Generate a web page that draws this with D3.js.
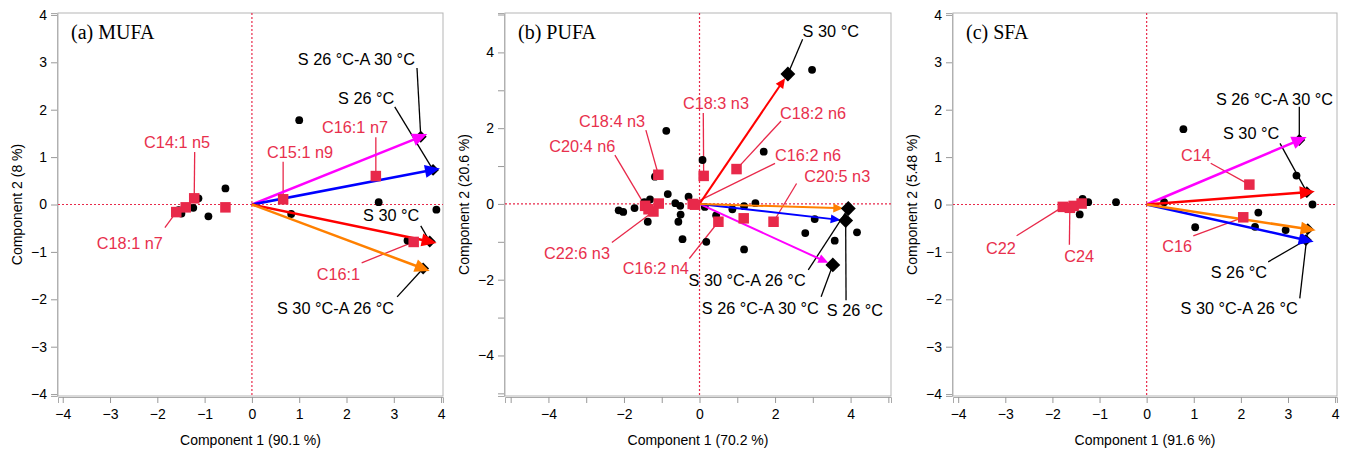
<!DOCTYPE html>
<html lang="en">
<head>
<meta charset="utf-8">
<title>PCA biplots</title>
<script src="https://d3js.org/d3.v7.min.js"></script>
<style>
  body { margin: 0; background: #fff; }
  svg { font-family: "Liberation Sans", Arial, sans-serif; }
  .tick text { font-size: 14px; fill: #000; }
  .tick line { stroke: #999; }
</style>
</head>
<body>
<script>
// treatments = arrows / black diamonds, same order in every panel
var treatments = ["S 26 °C-A 30 °C", "S 26 °C", "S 30 °C", "S 30 °C-A 26 °C"];

// (a) MUFA
var mufaLoadX = [3.57, 3.83, 3.76, 3.62];
var mufaLoadY = [1.43, 0.73, -0.78, -1.35];
var mufaScoreX = [1.0, -0.56, -0.92, -1.24, -1.49, -1.13, -1.55, 0.83, 2.68, 3.9, 3.29];
var mufaScoreY = [1.78, 0.34, -0.25, -0.07, -0.19, 0.13, -0.12, -0.2, 0.05, -0.11, -0.76];
var mufaFA = ["C14:1 n5", "C15:1 n9", "C16:1 n7", "", "", "C18:1 n7", "C16:1"];
var mufaFAX = [-1.22, 0.66, 2.62, -0.56, -1.4, -1.6, 3.42];
var mufaFAY = [0.13, 0.11, 0.6, -0.06, -0.06, -0.16, -0.79];

// (b) PUFA
var pufaLoadX = [3.53, 3.87, 2.34, 3.94];
var pufaLoadY = [-1.61, -0.44, 3.43, -0.12];
var pufaScoreX = [2.98, -0.88, 1.7, 0.08, -1.18, -0.84, -0.29, 1.48, -0.64, -0.51, -1.31, -1.46, -1.72, -2.14, -2.02,
                  0.14, 0.87, 1.18, 3.05, -0.5, -1.37, -0.56, 0.44, 2.8, 4.17, 3.58, 1.18, 0.18, -0.45];
var pufaScoreY = [3.54, 1.93, 1.38, 1.16, 0.72, 0.26, 0.19, 0.02, 0.02, -0.05, 0.12, 0.05, -0.11, -0.17, -0.21,
                  -0.08, -0.14, -0.06, -0.4, -0.28, -0.47, -0.47, -0.3, -0.77, -0.75, -0.97, -1.2, -1.0, -0.93];
var pufaFA = ["C18:4 n3", "C18:3 n3", "C18:2 n6", "C16:2 n6", "C20:5 n3", "", "C16:2 n4", "C20:4 n6", "", "C22:6 n3", "", ""];
var pufaFAX = [-1.09, 0.11, 0.98, -0.18, 1.96, 1.17, 0.5, -1.44, -1.08, -1.22, -1.35, -0.12];
var pufaFAY = [0.77, 0.74, 0.92, 0.0, -0.47, -0.38, -0.47, -0.05, 0.01, -0.2, -0.14, -0.02];

// (c) SFA
var sfaLoadX = [3.24, 3.38, 3.4, 3.42];
var sfaLoadY = [1.36, -0.75, 0.26, -0.52];
var sfaScoreX = [0.78, 3.18, 3.52, 0.37, -0.65, -1.36, -1.24, -1.42, 2.37, 1.03, 2.3, 2.95];
var sfaScoreY = [1.59, 0.61, 0.0, 0.05, 0.05, 0.12, 0.05, -0.21, -0.17, -0.48, -0.47, -0.54];
var sfaFA = ["C14", "C16", "C22", "C24", "", ""];
var sfaFAX = [2.18, 2.05, -1.78, -1.63, -1.55, -1.38];
var sfaFAY = [0.42, -0.27, -0.05, -0.07, -0.03, 0.02];

// explained variance for axis titles
var pc1Pct = ["90.1", "70.2", "91.6"];
var pc2Pct = ["8", "20.6", "5.48"];
var panelTitles = ["(a) MUFA", "(b) PUFA", "(c) SFA"];

var arrowColors = ["#ff00ff", "#0000ff", "#ff0000", "#ff8000"];
var faColor = "#e8294a";

// label placement: [text, text x, text baseline y, leader start x, leader start y] (data units)
var mufaNotes = [
  ["S 26 °C-A 30 °C", 0.97, 2.94, 3.49, 2.88],
  ["S 26 °C", 1.82, 2.12, 3.02, 2.06],
  ["S 30 °C", 2.35, -0.35, 3.57, -0.45],
  ["S 30 °C-A 26 °C", 0.53, -2.31, 3.07, -1.95],
  ["C14:1 n5", -2.28, 1.19, -1.21, 1.11],
  ["C15:1 n9", 0.32, 0.98, 0.66, 0.9],
  ["C16:1 n7", 1.48, 1.51, 2.62, 1.42],
  ["C18:1 n7", -3.28, -0.94, -1.84, -0.49],
  ["C16:1", 1.37, -1.59, 2.32, -1.23]
];
var pufaNotes = [
  ["S 30 °C", 2.73, 4.41, 2.73, 4.35],
  ["S 30 °C-A 26 °C", -0.29, -2.17, 2.88, -1.74],
  ["S 26 °C-A 30 °C", 0.06, -2.91, 3.22, -2.45],
  ["S 26 °C", 3.37, -2.96, 3.88, -2.54],
  ["C18:3 n3", -0.44, 2.5, 0.1, 2.4],
  ["C18:2 n6", 2.13, 2.24, 2.16, 2.19],
  ["C18:4 n3", -3.19, 2.03, -1.42, 1.95],
  ["C20:4 n6", -3.98, 1.37, -2.24, 1.29],
  ["C16:2 n6", 2.0, 1.13, 2.0, 1.07],
  ["C20:5 n3", 2.77, 0.58, 2.57, 0.54],
  ["C22:6 n3", -4.12, -1.45, -2.32, -1.02],
  ["C16:2 n4", -2.03, -1.85, -0.27, -1.44]
];
var sfaNotes = [
  ["S 26 °C-A 30 °C", 1.47, 2.1, 3.24, 2.06],
  ["S 30 °C", 1.62, 1.38, 2.83, 1.29],
  ["S 26 °C", 1.36, -1.55, 2.58, -1.21],
  ["S 30 °C-A 26 °C", 0.72, -2.31, 3.25, -1.98],
  ["C14", 0.73, 0.92, 1.36, 0.87],
  ["C16", 0.33, -1.0, 0.99, -0.66],
  ["C22", -3.41, -1.04, -2.76, -0.66],
  ["C24", -1.75, -1.21, -1.64, -0.85]
];

var panels = [
  { left: 58, right: 443, xDom: [-4.1, 4.04], yDom: [-4.04, 4.04], ticks: d3.range(-4, 5), every: 1,
    head: 15, hw: 6.5, lw: 2.5, ext: 7, dSize: 70, dTop: false,
    loadX: mufaLoadX, loadY: mufaLoadY, sx: mufaScoreX, sy: mufaScoreY,
    fa: mufaFA, fx: mufaFAX, fy: mufaFAY, notes: mufaNotes },
  { left: 505, right: 891, xDom: [-5.15, 5.07], yDom: [-5.07, 5.04], ticks: d3.range(-5, 6), every: 2,
    head: 10, hw: 4.5, lw: 2, ext: -5, dSize: 110, dTop: true,
    loadX: pufaLoadX, loadY: pufaLoadY, sx: pufaScoreX, sy: pufaScoreY,
    fa: pufaFA, fx: pufaFAX, fy: pufaFAY, notes: pufaNotes },
  { left: 953, right: 1337, xDom: [-4.11, 4.04], yDom: [-4.04, 4.04], ticks: d3.range(-4, 5), every: 1,
    head: 15, hw: 6.5, lw: 2.5, ext: 8, dSize: 70, dTop: false,
    loadX: sfaLoadX, loadY: sfaLoadY, sx: sfaScoreX, sy: sfaScoreY,
    fa: sfaFA, fx: sfaFAX, fy: sfaFAY, notes: sfaNotes }
];

var plotTop = 13, plotBottom = 396;

var svg = d3.select("body")
  .append("svg")
  .attr("width", 1347)
  .attr("height", 450);

panels.forEach(function(p, pi) {
  var x = d3.scaleLinear().domain(p.xDom).range([p.left, p.right]);
  var y = d3.scaleLinear().domain(p.yDom).range([plotBottom, plotTop]);
  var g = svg.append("g");
  var fmt = d3.format("d");
  var tf = function(d) { return d % p.every === 0 ? fmt(d) : ""; };

  // axes
  var xa = g.append("g")
    .attr("transform", "translate(0," + (plotBottom + 1) + ")")
    .call(d3.axisBottom(x).tickValues(p.ticks).tickFormat(tf).tickSize(6).tickPadding(6));
  var ya = g.append("g")
    .attr("transform", "translate(" + (p.left - 1) + ",0)")
    .call(d3.axisLeft(y).tickValues(p.ticks).tickFormat(tf).tickSize(6).tickPadding(4));
  xa.select(".domain").attr("stroke", "#aaa");
  ya.select(".domain").attr("stroke", "#aaa");
  xa.selectAll(".tick").filter(function(d) { return d === 0; })
    .select("line").attr("stroke", faColor);

  g.append("rect")
    .attr("x", p.left).attr("y", plotTop)
    .attr("width", p.right - p.left).attr("height", plotBottom - plotTop)
    .attr("fill", "none").attr("stroke", "#b5b5b5");

  // zero lines
  g.append("line")
    .attr("x1", p.left).attr("x2", p.right).attr("y1", y(0)).attr("y2", y(0))
    .attr("stroke", faColor).attr("stroke-width", 1.2).attr("stroke-dasharray", "2,2");
  g.append("line")
    .attr("x1", x(0)).attr("x2", x(0)).attr("y1", plotTop).attr("y2", plotBottom)
    .attr("stroke", faColor).attr("stroke-width", 1.2).attr("stroke-dasharray", "2,2");

  // axis titles
  g.append("text")
    .attr("x", (p.left + p.right) / 2).attr("y", 445)
    .attr("text-anchor", "middle").attr("font-size", "14px")
    .text("Component 1  (" + pc1Pct[pi] + " %)");
  g.append("text")
    .attr("transform", "translate(" + (p.left - 36) + "," + ((plotTop + plotBottom) / 2) + ") rotate(-90)")
    .attr("text-anchor", "middle").attr("font-size", "14px")
    .text("Component 2  (" + pc2Pct[pi] + " %)");

  g.append("text")
    .attr("x", p.left + 13).attr("y", 39)
    .attr("font-family", "'Liberation Serif', 'Times New Roman', serif")
    .attr("font-size", "20px")
    .text(panelTitles[pi]);

  // where a note's leader line ends
  function target(name) {
    var i = treatments.indexOf(name);
    if (i >= 0) return [p.loadX[i], p.loadY[i]];
    i = p.fa.indexOf(name);
    return [p.fx[i], p.fy[i]];
  }

  g.selectAll("line.leader")
    .data(p.notes)
    .enter()
    .append("line")
    .attr("class", "leader")
    .attr("x1", function(d) { return x(d[3]); })
    .attr("y1", function(d) { return y(d[4]); })
    .attr("x2", function(d) { return x(target(d[0])[0]); })
    .attr("y2", function(d) { return y(target(d[0])[1]); })
    .attr("stroke", function(d) { return treatments.indexOf(d[0]) >= 0 ? "#000" : faColor; })
    .attr("stroke-width", 1.3);

  // sample scores
  g.selectAll("circle.score")
    .data(d3.range(p.sx.length))
    .enter()
    .append("circle")
    .attr("class", "score")
    .attr("cx", function(i) { return x(p.sx[i]); })
    .attr("cy", function(i) { return y(p.sy[i]); })
    .attr("r", 3.9)
    .attr("fill", "#000");

  function drawDiamonds() {
    g.selectAll("path.load")
      .data(d3.range(treatments.length))
      .enter()
      .append("path")
      .attr("class", "load")
      .attr("d", d3.symbol(d3.symbolSquare, p.dSize))
      .attr("transform", function(i) {
        return "translate(" + x(p.loadX[i]) + "," + y(p.loadY[i]) + ") rotate(45)";
      })
      .attr("fill", "#000");
  }

  if (!p.dTop) drawDiamonds();

  // arrows from the origin toward each treatment
  var arrows = d3.range(treatments.length).map(function(i) {
    var x0 = x(0), y0 = y(0), x1 = x(p.loadX[i]), y1 = y(p.loadY[i]);
    var len = Math.hypot(x1 - x0, y1 - y0);
    var ux = (x1 - x0) / len, uy = (y1 - y0) / len;
    var tx = x1 + ux * p.ext, ty = y1 + uy * p.ext;
    var bx = tx - ux * p.head, by = ty - uy * p.head;
    return { i: i, x0: x0, y0: y0, bx: bx, by: by, tx: tx, ty: ty,
      head: [[tx, ty], [bx - uy * p.hw, by + ux * p.hw], [bx + uy * p.hw, by - ux * p.hw]] };
  });

  g.selectAll("line.arrow")
    .data(arrows)
    .enter()
    .append("line")
    .attr("class", "arrow")
    .attr("x1", function(d) { return d.x0; })
    .attr("y1", function(d) { return d.y0; })
    .attr("x2", function(d) { return d.bx + (d.tx - d.bx) * 0.2; })
    .attr("y2", function(d) { return d.by + (d.ty - d.by) * 0.2; })
    .attr("stroke", function(d) { return arrowColors[d.i]; })
    .attr("stroke-width", p.lw);

  g.selectAll("path.head")
    .data(arrows)
    .enter()
    .append("path")
    .attr("class", "head")
    .attr("d", function(d) { return "M" + d.head.join("L") + "Z"; })
    .attr("fill", function(d) { return arrowColors[d.i]; });

  if (p.dTop) drawDiamonds();

  // fatty acid loadings
  g.selectAll("rect.fa")
    .data(d3.range(p.fa.length))
    .enter()
    .append("rect")
    .attr("class", "fa")
    .attr("x", function(i) { return x(p.fx[i]) - 5.25; })
    .attr("y", function(i) { return y(p.fy[i]) - 5.25; })
    .attr("width", 10.5)
    .attr("height", 10.5)
    .attr("fill", faColor);

  g.selectAll("text.note")
    .data(p.notes)
    .enter()
    .append("text")
    .attr("class", "note")
    .attr("x", function(d) { return x(d[1]); })
    .attr("y", function(d) { return y(d[2]); })
    .attr("font-size", "16.3px")
    .attr("fill", function(d) { return treatments.indexOf(d[0]) >= 0 ? "#000" : "#e8304d"; })
    .text(function(d) { return d[0]; });
});
</script>
</body>
</html>
